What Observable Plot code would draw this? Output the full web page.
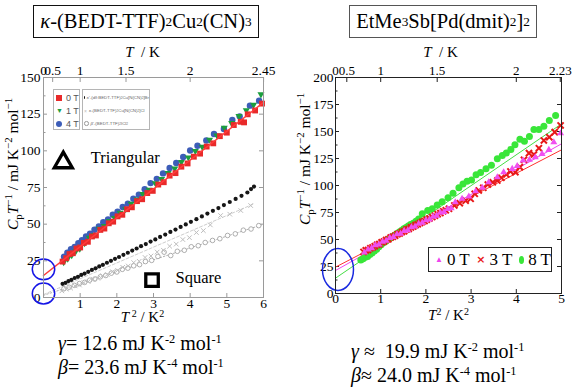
<!DOCTYPE html>
<html><head><meta charset="utf-8">
<script src="https://cdn.jsdelivr.net/npm/d3@7"></script>
<script src="https://cdn.jsdelivr.net/npm/@observablehq/plot@0.6"></script>
<style>
html,body{margin:0;padding:0;background:#fff;}
#page{position:relative;width:580px;height:388px;overflow:hidden;font-family:"Liberation Serif","DejaVu Serif","Noto Serif",serif;color:#000;}
.panel{position:absolute;top:40px;width:290px;height:290px;}
.title{position:absolute;top:5px;height:33px;box-sizing:border-box;display:flex;align-items:center;justify-content:center;font-size:20.5px;white-space:nowrap;background:#fff;z-index:2;}
.title sub{font-size:0.65em;vertical-align:-0.5em;line-height:0;}
.formula{position:absolute;font-size:20px;white-space:pre;line-height:24px;z-index:2;}
.formula sup{font-size:0.62em;vertical-align:0.6em;line-height:0;}
.lg{position:absolute;box-sizing:border-box;background:#fff;z-index:3;}
.lg1{border:1px solid #b5b5b5;font-family:"Liberation Sans",Arial,sans-serif;font-size:9px;color:#555;}
.lg1 .row{height:13px;display:flex;align-items:center;padding-left:2px;}
.lg2{border:1px solid #b5b5b5;font-family:"Liberation Sans",Arial,sans-serif;font-size:4.4px;color:#666;}
.lg2 .row{height:13px;display:flex;align-items:center;padding-left:1px;white-space:nowrap;}
.lg2 sub{font-size:0.7em;vertical-align:-0.3em;line-height:0;}
.lgR{border:1px solid #222;font-size:17px;display:flex;align-items:center;padding-left:6px;white-space:nowrap;}
.sym{display:inline-block;margin-right:4px;}
</style></head>
<body>
<div id="page">
  <div class="panel" id="left" style="left:0px"></div>
  <div class="panel" id="right" style="left:290px"></div>

  <div class="title" style="left:33px;width:226px;border:1.5px solid #111;"><i>κ</i>-(BEDT-TTF)<sub>2</sub>Cu<sub>2</sub>(CN)<sub>3</sub></div>
  <div class="title" style="left:349px;width:188px;border:1.5px solid #555;">EtMe<sub>3</sub>Sb[Pd(dmit)<sub>2</sub>]<sub>2</sub></div>

  <div class="lg lg1" style="left:53px;top:89px;width:27px;height:41px;padding-top:1px">
    <div class="row"><span class="sym" style="width:6px;height:6px;background:#e82a2a"></span>0 T</div>
    <div class="row"><span class="sym" style="font-size:7px;color:#1b9e3e;margin-right:3px">▼</span>1 T</div>
    <div class="row"><span class="sym" style="width:6px;height:6px;border-radius:50%;background:#3d5db8"></span>4 T</div>
  </div>
  <div class="lg lg2" style="left:82px;top:89px;width:68px;height:41px;padding-top:1px">
    <div class="row"><span class="sym" style="width:2.5px;height:2.5px;border-radius:50%;background:#111;margin-right:2px"></span><i>κ</i>'-(d<sub>8</sub>:BEDT-TTF)<sub>2</sub>Cu[N(CN)<sub>2</sub>]Br</div>
    <div class="row"><span class="sym" style="color:#bbb;font-size:5px;margin-right:2px">×</span><i>κ</i>-(BEDT-TTF)<sub>2</sub>Cu[N(CN)<sub>2</sub>]Cl</div>
    <div class="row"><span class="sym" style="width:2.5px;height:2.5px;border-radius:50%;border:0.6px solid #999;margin-right:2px"></span><i>β</i>'-(BEDT-TTF)<sub>2</sub>ICl<sub>2</sub></div>
  </div>
  <div class="lg lgR" style="left:428px;top:247px;width:124px;height:25px;">
    <span class="sym" style="font-size:8px;color:#ee44ee">▲</span>0 T<span style="width:10px;display:inline-block"></span><span class="sym" style="font-size:11px;color:#e81818;font-weight:bold;font-family:'DejaVu Sans'">×</span>3 T<span style="width:10px;display:inline-block"></span><span class="sym" style="width:8px;height:8px;border-radius:50%;background:#39e639"></span>8 T
  </div>

  <div class="formula" style="left:58px;top:331px;"><i>γ</i>= 12.6 mJ K<sup>-2</sup> mol<sup>-1</sup></div>
  <div class="formula" style="left:58px;top:355px;"><i>β</i>= 23.6 mJ K<sup>-4</sup> mol<sup>-1</sup></div>
  <div class="formula" style="left:351px;top:339px;"><i>γ</i> ≈  19.9 mJ K<sup>-2</sup> mol<sup>-1</sup></div>
  <div class="formula" style="left:351px;top:363px;"><i>β</i>≈ 24.0 mJ K<sup>-4</sup> mol<sup>-1</sup></div>
</div>
<script>
// ---------- Left panel: κ-(BEDT-TTF)2Cu2(CN)3, x = T^2 (K^2), y = C/T (mJ K^-2 mol^-1)
const cn0T = [[0.52,24.5],[0.62,26.8],[0.71,29.6],[0.80,30.2],[0.90,33.4],[1.00,34.1],[1.10,37.2],[1.21,38.0],[1.32,41.6],[1.43,42.3],[1.55,46.1],[1.66,47.0],[1.78,50.6],[1.90,51.7],[2.02,55.3],[2.15,56.4],[2.28,60.2],[2.41,61.5],[2.55,65.7],[2.69,67.0],[2.83,71.2],[2.98,72.7],[3.13,77.0],[3.28,78.6],[3.44,83.1],[3.60,84.8],[3.76,89.2],[3.93,91.4],[4.10,96.0],[4.27,98.1],[4.45,102.9],[4.63,105.1],[4.81,110.0],[5.00,112.4],[5.19,117.6],[5.38,119.8],[5.47,119.4],[5.57,124.9],[5.77,127.5],[5.96,132.2]];
const cn1T = [[0.55,24.0],[0.66,26.5],[0.77,28.8],[0.88,31.5],[0.99,33.2],[1.12,37.0],[1.25,40.8],[1.38,42.6],[1.52,46.9],[1.66,48.8],[1.80,52.1],[1.94,54.2],[2.09,57.8],[2.24,60.2],[2.39,63.9],[2.55,66.8],[2.71,70.6],[2.88,73.5],[3.05,77.9],[3.22,80.8],[3.40,84.9],[3.58,88.0],[3.76,92.3],[3.95,95.4],[4.14,99.8],[4.33,102.7],[4.53,107.6],[4.73,110.4],[4.93,115.8],[5.13,118.9],[5.33,123.7],[5.53,127.6],[5.73,131.4],[5.93,138.5]];
const cn4T = [[0.56,27.8],[0.65,30.5],[0.75,32.9],[0.85,34.4],[0.95,37.1],[1.05,39.0],[1.16,41.6],[1.27,43.5],[1.39,46.2],[1.51,48.4],[1.63,51.3],[1.76,53.2],[1.89,56.4],[2.02,58.5],[2.16,61.7],[2.30,64.0],[2.45,67.3],[2.60,70.1],[2.76,73.8],[2.92,78.0],[3.09,80.9],[3.26,84.6],[3.44,88.3],[3.62,91.7],[3.81,95.8],[4.00,100.2],[4.20,103.5],[4.44,107.0],[4.65,111.5],[4.92,114.9],[5.15,121.0],[5.35,123.5],[5.63,130.8],[5.88,134.2]];
const brD8 = [[0.52,9.3],[0.60,10.0],[0.68,11.2],[0.76,12.0],[0.85,13.3],[0.94,14.1],[1.03,15.4],[1.12,16.3],[1.22,17.5],[1.32,18.8],[1.42,19.9],[1.52,21.2],[1.62,22.3],[1.73,23.7],[1.84,25.0],[1.95,26.4],[2.06,27.6],[2.18,29.1],[2.30,30.5],[2.42,32.0],[2.54,33.4],[2.66,35.0],[2.79,36.4],[2.92,38.1],[3.05,39.6],[3.18,41.3],[3.32,42.9],[3.46,44.7],[3.60,46.3],[3.74,48.1],[3.88,49.8],[4.02,51.6],[4.17,53.4],[4.32,55.3],[4.47,57.2],[4.62,59.1],[4.77,61.0],[4.92,63.0],[5.08,65.1],[5.24,67.2],[5.40,69.3],[5.56,71.6],[5.66,73.9],[5.74,75.6]];
const clH8 = [[0.50,4.5],[0.62,5.7],[0.74,6.4],[0.86,7.9],[0.98,8.5],[1.10,10.1],[1.22,10.8],[1.35,12.5],[1.48,13.1],[1.61,14.9],[1.74,15.7],[1.88,17.6],[2.02,18.5],[2.16,20.6],[2.31,21.5],[2.46,23.8],[2.61,24.7],[2.77,27.3],[2.93,28.3],[3.10,31.0],[3.27,32.2],[3.44,35.0],[3.62,36.4],[3.80,39.5],[3.98,40.8],[4.17,44.3],[4.36,45.6],[4.55,49.5],[4.83,55.9],[5.08,56.8],[5.38,59.3],[5.65,62.7]];
const icl2 = [[0.56,6.0],[0.70,7.0],[0.84,8.3],[0.98,9.5],[1.12,10.3],[1.26,11.8],[1.40,12.6],[1.55,14.1],[1.70,15.0],[1.85,16.6],[2.00,17.4],[2.15,19.2],[2.30,20.0],[2.46,21.6],[2.62,22.4],[2.78,24.5],[2.95,25.3],[3.12,28.0],[3.29,30.9],[3.47,28.6],[3.65,31.5],[3.84,32.2],[4.03,34.6],[4.22,35.3],[4.41,37.5],[4.61,38.9],[4.81,40.1],[5.02,42.3],[5.23,43.4],[5.45,45.9],[5.66,46.7],[5.87,49.0]];
const fitCN = [[0,15],[6,133]];
const fitCl = [[0,2],[5.75,64]];
const fitICl2 = [[0,1.5],[5.95,49.5]];
const xTicksL = [1,2,3,4,5,6];
const yTicksL = [0,25,50,75,100,125,150];
const yMinorL = [12.5,37.5,62.5,87.5,112.5,137.5];
const tTicksL = [0,0.5,1,1.5,2,2.45];
const interceptsL = [{t2:0,v:19.2},{t2:0,v:2.7}];
const latticeLabels = [{label:"Triangular",t2:1.29,v:95.6},{label:"Square",t2:3.6,v:13.8}];
const triangleMark = [{t2:0.54,v:92}];
const squareMark = [{t2:2.96,v:11.9}];

// ---------- Right panel: EtMe3Sb[Pd(dmit)2]2
const dm0T = [[0.64,38.0],[0.72,40.8],[0.80,42.0],[0.88,44.6],[0.96,45.3],[1.04,47.9],[1.12,48.8],[1.20,51.5],[1.28,52.3],[1.36,54.8],[1.44,55.4],[1.52,58.0],[1.60,58.6],[1.68,61.3],[1.76,62.0],[1.84,64.6],[1.92,65.5],[2.00,67.9],[2.08,68.6],[2.16,71.2],[2.24,72.1],[2.32,74.9],[2.40,75.5],[2.48,78.2],[2.56,79.0],[2.65,84.5],[2.80,87.7],[2.95,89.8],[3.10,94.7],[3.25,97.9],[3.39,103.0],[3.58,107.7],[3.72,112.3],[3.91,115.4],[4.02,118.0],[4.15,123.1],[4.29,123.8],[4.42,126.2],[4.57,129.3],[4.72,133.0],[4.83,140.0],[4.98,148.4]];
const dm3T = [[0.62,38.5],[0.67,39.9],[0.72,40.3],[0.77,41.9],[0.82,42.6],[0.87,43.8],[0.92,45.1],[0.97,45.7],[1.02,47.4],[1.07,48.1],[1.12,49.6],[1.17,50.2],[1.22,51.8],[1.27,52.6],[1.32,53.5],[1.37,54.9],[1.42,55.6],[1.47,57.0],[1.52,57.7],[1.57,59.2],[1.62,59.8],[1.67,61.2],[1.72,62.0],[1.77,63.3],[1.82,64.1],[1.87,65.2],[1.92,66.3],[1.97,67.1],[2.02,68.4],[2.08,69.5],[2.14,70.8],[2.20,72.0],[2.26,73.4],[2.32,74.5],[2.38,76.1],[2.44,77.0],[2.51,78.4],[2.63,81.5],[2.75,83.6],[2.88,86.0],[2.99,87.7],[3.08,92.3],[3.17,95.4],[3.27,97.9],[3.37,100.9],[3.48,103.0],[3.58,104.6],[3.67,107.1],[3.78,110.2],[3.87,113.0],[3.98,112.3],[4.08,117.0],[4.17,123.8],[4.28,130.0],[4.39,128.7],[4.50,134.5],[4.61,141.7],[4.73,144.7],[4.85,149.4],[4.98,155.6]];
const dm8T = [[0.56,31.0],[0.61,32.2],[0.66,33.6],[0.71,34.3],[0.76,36.2],[0.81,37.5],[0.86,39.4],[0.91,41.0],[0.96,43.2],[1.01,45.1],[1.06,47.0],[1.11,48.3],[1.16,50.1],[1.21,51.3],[1.26,52.8],[1.31,54.0],[1.36,55.6],[1.41,57.0],[1.46,58.4],[1.51,59.9],[1.56,61.0],[1.61,62.5],[1.66,63.8],[1.72,65.1],[1.78,66.9],[1.84,68.9],[1.92,73.8],[2.04,76.9],[2.14,78.4],[2.25,82.0],[2.36,85.0],[2.49,88.6],[2.60,92.9],[2.73,97.9],[2.82,101.5],[2.91,104.0],[3.01,105.0],[3.11,110.0],[3.21,112.0],[3.33,115.4],[3.45,118.8],[3.58,124.7],[3.69,127.8],[3.78,130.0],[3.88,133.3],[3.97,137.7],[4.08,142.9],[4.18,141.0],[4.29,145.4],[4.39,151.8],[4.50,151.8],[4.61,154.9],[4.73,160.2],[4.87,164.8]];
const fit0T = [[0,21.3],[5,138.6]];
const fit3T = [[0,24.4],[5,133]];
const fit8T = [[0,14.2],[5,157]];
const xTicksR = [0,1,2,3,4,5];
const yTicksR = [0,25,50,75,100,125,150,175,200];
const yMinorR = [12.5,37.5,62.5,87.5,112.5,137.5,162.5,187.5];
const tTicksR = [0,0.5,1,1.5,2,2.23];
const interceptsR = [{t2:0.055,v:22.2}];

// ---------- helpers
const ellipse = (k) => ({draw(ctx, size) {
  const rx = Math.sqrt(size / Math.PI), ry = rx * k, c = 0.5523;
  ctx.moveTo(rx, 0);
  ctx.bezierCurveTo(rx, ry * c, rx * c, ry, 0, ry);
  ctx.bezierCurveTo(-rx * c, ry, -rx, ry * c, -rx, 0);
  ctx.bezierCurveTo(-rx, -ry * c, -rx * c, -ry, 0, -ry);
  ctx.bezierCurveTo(rx * c, -ry, rx, -ry * c, rx, 0);
  ctx.closePath();
}});
const triangleDown = {draw(ctx, size) {
  const s3 = Math.sqrt(3), y = -Math.sqrt(size / (s3 * 3));
  ctx.moveTo(0, -2 * y); ctx.lineTo(-s3 * y, y); ctx.lineTo(s3 * y, y); ctx.closePath();
}};
const sup = (s, size, sh) => `<tspan font-size="${size}" dy="-${sh}">${s}</tspan>`;
function yLabelMarkup(fs) {
  const s = (fs * 0.7).toFixed(1), sh = (fs * 0.36).toFixed(1), sb = (fs * 0.28).toFixed(1);
  return `<tspan font-style="italic">C</tspan><tspan font-size="${s}" dy="${sb}">p</tspan><tspan font-style="italic" dy="-${sb}">T</tspan>`
    + sup("−1", s, sh) + `<tspan dy="${sh}"> / mJ K</tspan>` + sup("−2", s, sh) + `<tspan dy="${sh}"> mol</tspan>` + sup("−1", s, sh);
}
function x2Markup(fs, gap) {
  const s = Math.round(fs * 0.68), sh = Math.round(fs * 0.36);
  return `<tspan font-style="italic">T</tspan>` + sup((gap ? " " : "") + "2", s, sh) + `<tspan dy="${sh}"> / K</tspan>` + sup("2", s, sh);
}
const tMarkup = `<tspan font-style="italic">T</tspan>  / K`;

function rich(svg, map) {
  svg.querySelectorAll("text").forEach(t => {
    const k = t.textContent;
    if (map[k] !== undefined) { t.innerHTML = map[k]; t.setAttribute("class", "lab-" + k); }
  });
}
// size and centre the rotated y label so that its length matches the reference
function fitYLabel(svg, cx, cy, len) {
  const t = svg.querySelector("text.lab-YLAB");
  if (!t) return;
  let fs = 15.5;
  for (let i = 0; i < 3; i++) {
    t.setAttribute("font-size", fs);
    t.innerHTML = yLabelMarkup(fs);
    const L = t.getComputedTextLength();
    if (!(L > 0)) break;
    fs = Math.min(15.5, fs * len / L);
  }
  t.setAttribute("font-size", fs);
  t.innerHTML = yLabelMarkup(fs);
  t.setAttribute("text-anchor", "middle");
  t.setAttribute("transform", `translate(${cx},${cy}) rotate(-90)`);
  if (t.parentNode && t.parentNode.removeAttribute) t.parentNode.removeAttribute("transform");
}

const baseStyle = {fontFamily: "'Liberation Serif', 'DejaVu Serif', 'Noto Serif', serif", fontSize: "13.5px", background: "transparent", color: "#000"};

// ---------- left plot
{
  const W = 290, H = 290, mL = 43, mR = 27, mT = 37, mB = 33;
  const iw = W - mL - mR, ih = H - mT - mB;
  const tPos = tTicksL.map(t => t * t);
  const tLab = new Map(tTicksL.map(t => [t * t, String(t)]));
  const fc = "#9a9a9a";
  const svg = Plot.plot({
    width: W, height: H, marginLeft: mL, marginRight: mR, marginTop: mT, marginBottom: mB,
    x: {domain: [0, 6]}, y: {domain: [0, 150]},
    style: baseStyle,
    marks: [
      Plot.ruleY(yTicksL, {y: d => d, insetRight: iw - 4, stroke: fc}),
      Plot.ruleY(yMinorL, {y: d => d, insetRight: iw - 2.5, stroke: fc}),
      Plot.ruleY(yTicksL, {y: d => d, insetLeft: iw - 4, stroke: fc}),
      Plot.ruleX(xTicksL, {x: d => d, insetTop: ih - 4, stroke: fc}),
      Plot.ruleX(tPos, {x: d => d, insetBottom: ih - 5, stroke: fc}),
      Plot.axisY(yTicksL, {tickSize: 0, tickPadding: 3, label: null}),
      Plot.axisX(xTicksL, {tickSize: 0, tickPadding: 1, label: null}),
      Plot.axisX(tPos, {anchor: "top", tickSize: 0, tickPadding: 3, label: null, tickFormat: d => tLab.get(d)}),
      Plot.text(["YLAB"], {text: d => d, frameAnchor: "left", textAnchor: "middle", lineAnchor: "middle", rotate: -90, fontSize: 15.5}),
      Plot.text(["XLAB"], {text: d => d, frameAnchor: "bottom", dx: -11, dy: 24, fontSize: 15}),
      Plot.text(["TLAB"], {text: d => d, frameAnchor: "top", dx: -11, dy: -31, fontSize: 15}),
      Plot.line(fitICl2, {stroke: "#9a9a9a", strokeWidth: 0.8, strokeDasharray: "1.5,2"}),
      Plot.line(fitCl, {stroke: "#c0c0c0", strokeWidth: 0.8, strokeDasharray: "3,2"}),
      Plot.dot(icl2, {r: 2.3, stroke: "#9a9a9a", strokeWidth: 0.8, fill: "white"}),
      Plot.dot(clH8, {symbol: "times", r: 2.2, stroke: "#bdbdbd", strokeWidth: 1}),
      Plot.dot(brD8, {r: 2.1, fill: "#161616"}),
      Plot.dot(cn4T, {r: 3.2, fill: "#3d5db8"}),
      Plot.dot(cn1T, {symbol: triangleDown, r: 2.6, fill: "#1b9e3e"}),
      Plot.dot(cn0T, {symbol: "square", r: 3.3, fill: "#e82a2a"}),
      Plot.line(fitCN, {stroke: "#ff3b3b", strokeWidth: 1.5}),
      Plot.dot(triangleMark, {x: "t2", y: "v", symbol: "triangle2", r: 8.6, stroke: "black", strokeWidth: 3.3, fill: "none"}),
      Plot.dot(squareMark, {x: "t2", y: "v", symbol: "square", r: 7.05, stroke: "black", strokeWidth: 3.3, fill: "none"}),
      Plot.text(latticeLabels, {x: "t2", y: "v", text: "label", textAnchor: "start", fontSize: 16.5}),
      Plot.dot(interceptsL, {x: "t2", y: "v", symbol: ellipse(0.93), r: 11.2, stroke: "#1515e6", strokeWidth: 1.5, fill: "none"}),
      Plot.frame({stroke: fc})
    ]
  });
  rich(svg, {YLAB: yLabelMarkup(15.5), XLAB: x2Markup(15, true), TLAB: tMarkup});
  document.getElementById("left").appendChild(svg);
  fitYLabel(svg, 13, 124, 152);
}

// ---------- right plot
{
  const W = 290, H = 290, mL = 45, mR = 19, mT = 37, mB = 37;
  const iw = W - mL - mR, ih = H - mT - mB;
  const tPos = tTicksR.map(t => t * t);
  const tLab = new Map(tTicksR.map(t => [t * t, String(t)]));
  const fc = "#222";
  const svg = Plot.plot({
    width: W, height: H, marginLeft: mL, marginRight: mR, marginTop: mT, marginBottom: mB,
    x: {domain: [0, 5]}, y: {domain: [0, 200]},
    style: baseStyle,
    marks: [
      Plot.ruleY(yTicksR, {y: d => d, insetRight: iw - 4, stroke: fc}),
      Plot.ruleY(yMinorR, {y: d => d, insetRight: iw - 2.5, stroke: fc}),
      Plot.ruleY(yTicksR, {y: d => d, insetLeft: iw - 4, stroke: fc}),
      Plot.ruleX(xTicksR, {x: d => d, insetTop: ih - 4, stroke: fc}),
      Plot.ruleX(tPos, {x: d => d, insetBottom: ih - 5, stroke: fc}),
      Plot.axisY(yTicksR, {tickSize: 0, tickPadding: 2, label: null}),
      Plot.axisX(xTicksR, {tickSize: 0, tickPadding: 0, label: null}),
      Plot.axisX(tPos, {anchor: "top", tickSize: 0, tickPadding: 3, label: null, fontSize: 13, tickFormat: d => tLab.get(d)}),
      Plot.text(["YLAB"], {text: d => d, frameAnchor: "left", textAnchor: "middle", lineAnchor: "middle", rotate: -90, fontSize: 15.5}),
      Plot.text(["XLAB"], {text: d => d, frameAnchor: "bottom", dx: 0, dy: 26, fontSize: 15}),
      Plot.text(["TLAB"], {text: d => d, frameAnchor: "top", dx: -8, dy: -31, fontSize: 15}),
      Plot.line(fit8T, {stroke: "#44dd44", strokeWidth: 1}),
      Plot.line(fit0T, {stroke: "#ee44ee", strokeWidth: 1}),
      Plot.line(fit3T, {stroke: "#ff3030", strokeWidth: 1}),
      Plot.dot(dm8T, {r: 3.5, fill: "#39e639"}),
      Plot.dot(dm3T, {symbol: "times", r: 2.9, stroke: "#e81818", strokeWidth: 2}),
      Plot.dot(dm0T, {symbol: "triangle", r: 2.6, fill: "#f050f0"}),
      Plot.dot(interceptsR, {x: "t2", y: "v", symbol: ellipse(1.35), r: 15.5, stroke: "#1a2ae0", strokeWidth: 1.5, fill: "none"}),
      Plot.frame({stroke: fc})
    ]
  });
  rich(svg, {YLAB: yLabelMarkup(15.5), XLAB: x2Markup(15, false), TLAB: tMarkup});
  document.getElementById("right").appendChild(svg);
  fitYLabel(svg, 15, 119, 155);
}
</script>
</body></html>
